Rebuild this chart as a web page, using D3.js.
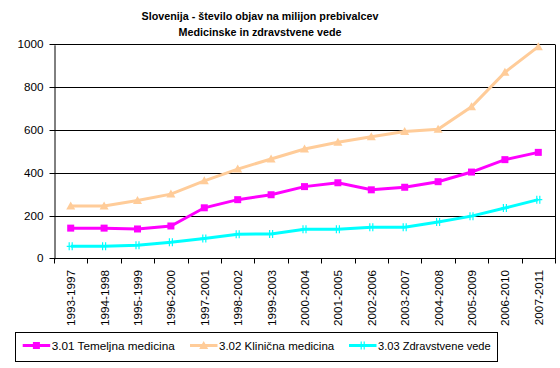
<!DOCTYPE html>
<html><head><meta charset="utf-8">
<script src="https://cdn.jsdelivr.net/npm/d3@7/dist/d3.min.js"></script>
<style>body{margin:0;background:#fff;} svg{display:block;} text{font-family:"Liberation Sans",Arial,sans-serif;fill:#000;}</style>
</head><body>
<svg id="c" width="560" height="368"></svg>
<script>
const categories = ["1993-1997","1994-1998","1995-1999","1996-2000","1997-2001","1998-2002","1999-2003","2000-2004","2001-2005","2002-2006","2003-2007","2004-2008","2005-2009","2006-2010","2007-2011"];
const temeljna = [141,141,137,151,236,274,297,335,353,320,332,358,403,461,495];
const klinicna = [244,244,270,300,362,417,464,511,542,568,593,603,708,869,989];
const zdravstvene = [56,56,61,75,93,112,114,136,136,145,145,170,197,235,274];
const yTicks = [0,200,400,600,800,1000];
const titleLines = ["Slovenija - število objav na milijon prebivalcev","Medicinske in zdravstvene vede"];
const seriesNames = ["3.01 Temeljna medicina","3.02 Klinična medicina","3.03 Zdravstvene vede"];

const series = [
  {name: seriesNames[0], values: temeljna, color: "#FF00FF", marker: "square"},
  {name: seriesNames[1], values: klinicna, color: "#FFCC99", marker: "triangle"},
  {name: seriesNames[2], values: zdravstvene, color: "#00FFFF", marker: "star"}
];

const svg = d3.select("#c");
const L = 54, R = 555, T = 44.3, B = 258.3;
const x = d3.scaleBand().domain(categories).range([L, R]);
const y = d3.scaleLinear().domain([0, 1000]).range([B, T]);

function fit(sel, target) {
  const n = sel.node();
  const base = parseFloat(n.getAttribute("font-size"));
  const w = n.getComputedTextLength();
  if (w > 0) sel.attr("font-size", (base * target / w).toFixed(2) + "px");
}

// title
const tt = svg.append("g").selectAll("text").data(titleLines).join("text")
  .attr("x", 260).attr("y", (d,i) => 19.5 + i*16.3)
  .attr("text-anchor", "middle").attr("font-weight", "bold").attr("font-size", "12px")
  .text(d => d);
fit(tt, 237);

// gridlines
svg.append("g").selectAll("line").data(yTicks.filter(d => d > 0)).join("line")
  .attr("x1", L).attr("x2", R).attr("y1", d => Math.round(y(d)) + 0.5).attr("y2", d => Math.round(y(d)) + 0.5)
  .attr("stroke", "#000").attr("stroke-width", 1);
svg.append("line").attr("x1", R + 0.5).attr("x2", R + 0.5).attr("y1", Math.round(T)+0.5).attr("y2", Math.round(B)+0.5)
  .attr("stroke", "#000");

// y axis
const yAxis = d3.axisLeft(y).tickValues(yTicks).tickFormat(d3.format("d")).tickSize(5).tickSizeOuter(0).tickPadding(6);
const gy = svg.append("g").attr("transform", `translate(${L + 0.5},0.5)`).call(yAxis);
gy.attr("font-family", null).attr("font-size", null);
gy.selectAll("text").attr("font-size", "11.7px");
gy.selectAll("line,path").attr("stroke", "#000");
gy.selectAll(".tick").attr("transform", d => `translate(0,${Math.round(y(d))})`);
fit(gy.selectAll("text").filter(d => d === 1000), 26);
gy.selectAll("text").attr("font-size", gy.selectAll("text").filter(d => d === 1000).attr("font-size"));

// x axis
const gx = svg.append("g").attr("transform", `translate(0,${Math.round(B) + 0.5})`);
gx.append("line").attr("x1", L).attr("x2", R + 1).attr("stroke", "#000");
const bounds = categories.map(c => x(c)).concat([R]);
gx.selectAll("line.tk").data(bounds).join("line").attr("class", "tk")
  .attr("x1", d => Math.round(d) + 0.5).attr("x2", d => Math.round(d) + 0.5).attr("y1", 0).attr("y2", 5)
  .attr("stroke", "#000");
const xl = gx.selectAll("text").data(categories).join("text")
  .attr("transform", d => `translate(${x(d) + x.bandwidth()/2 + 4.5},${11.5}) rotate(-90)`)
  .attr("text-anchor", "end").attr("font-size", "11.7px").text(d => d);
fit(xl, 56);

function drawMarker(g, type, color, cx, cy) {
  if (type === "square") {
    g.append("rect").attr("x", cx - 3.5).attr("y", cy - 3.5).attr("width", 7).attr("height", 7).attr("fill", color);
  } else if (type === "triangle") {
    g.append("path").attr("d", `M${cx},${cy-4.5}L${cx+4.5},${cy+3.5}L${cx-4.5},${cy+3.5}Z`).attr("fill", color);
  } else {
    g.append("path").attr("d", `M${cx-4},${cy}H${cx+4}M${cx-1.5},${cy-4}V${cy+4}M${cx+1.5},${cy-4}V${cy+4}`)
      .attr("stroke", color).attr("stroke-width", 1.2).attr("fill", "none");
  }
}

const line = d3.line().x((d,i) => x(categories[i]) + x.bandwidth()/2).y(d => y(d));
series.forEach(s => {
  const g = svg.append("g");
  g.append("path").attr("d", line(s.values)).attr("fill", "none").attr("stroke", s.color).attr("stroke-width", 3);
  s.values.forEach((v,i) => drawMarker(g, s.marker, s.color, x(categories[i]) + x.bandwidth()/2, y(v)));
});

// legend
svg.append("rect").attr("x", 15.5).attr("y", 332.5).attr("width", 482).attr("height", 29)
  .attr("fill", "#fff").attr("stroke", "#000");
const legX = [22.7, 190, 349];
const legW = [123, 115.3, 112.7];
series.forEach((s, i) => {
  const g = svg.append("g");
  g.append("line").attr("x1", legX[i]).attr("x2", legX[i] + 27.5).attr("y1", 345.5).attr("y2", 345.5)
    .attr("stroke", s.color).attr("stroke-width", 3);
  drawMarker(g, s.marker, s.color, legX[i] + 13.7, 345.5);
  const t = g.append("text").attr("x", legX[i] + 29).attr("y", 349.8).attr("font-size", "11.7px").text(s.name);
  fit(t, legW[i]);
});
</script>
</body></html>
